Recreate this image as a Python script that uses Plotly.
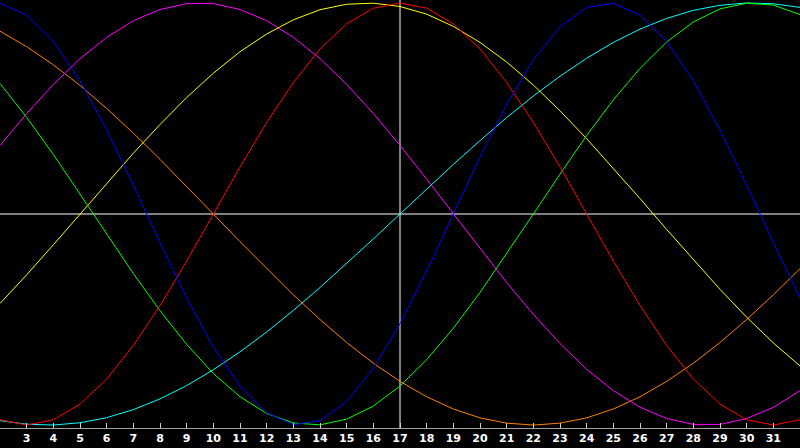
import plotly.graph_objects as go

# Days shown on the x axis
days = list(range(2, 33))
tick_days = list(range(3, 32))
tick_labels = [str(d) for d in tick_days]
today = 17

# Cycle values (one value per day, days 2..32)
blue = [0.998, 0.942, 0.817, 0.631, 0.398, 0.136, -0.136, -0.398, -0.631, -0.817,
        -0.942, -0.998, -0.979, -0.888, -0.731, -0.520, -0.270, 0.000, 0.270, 0.520,
        0.731, 0.888, 0.979, 0.998, 0.942, 0.817, 0.631, 0.398, 0.136, -0.136, -0.398]
red = [-0.975, -1.000, -0.975, -0.901, -0.782, -0.623, -0.434, -0.223, 0.000, 0.223,
       0.434, 0.623, 0.782, 0.901, 0.975, 1.000, 0.975, 0.901, 0.782, 0.623,
       0.434, 0.223, 0.000, -0.223, -0.434, -0.623, -0.782, -0.901, -0.975, -1.000, -0.975]
green = [0.618, 0.458, 0.282, 0.095, -0.095, -0.282, -0.458, -0.618, -0.756, -0.866,
         -0.945, -0.990, -0.999, -0.972, -0.910, -0.815, -0.690, -0.541, -0.372, -0.189,
         0.000, 0.189, 0.372, 0.541, 0.690, 0.815, 0.910, 0.972, 0.999, 0.990, 0.945]
magenta = [0.325, 0.476, 0.614, 0.736, 0.837, 0.916, 0.969, 0.997, 0.997, 0.969,
           0.916, 0.837, 0.736, 0.614, 0.476, 0.325, 0.165, 0.000, -0.165, -0.325,
           -0.476, -0.614, -0.736, -0.837, -0.916, -0.969, -0.997, -0.997, -0.969, -0.916, -0.837]
yellow = [-0.424, -0.288, -0.146, 0.000, 0.146, 0.288, 0.424, 0.552, 0.667, 0.769,
          0.853, 0.920, 0.968, 0.994, 0.999, 0.983, 0.947, 0.889, 0.813, 0.720,
          0.611, 0.489, 0.357, 0.217, 0.073, -0.073, -0.217, -0.357, -0.489, -0.611, -0.720]
orange = [0.866, 0.793, 0.707, 0.609, 0.500, 0.383, 0.259, 0.131, 0.000, -0.131,
          -0.259, -0.383, -0.500, -0.609, -0.707, -0.793, -0.866, -0.924, -0.966, -0.991,
          -1.000, -0.991, -0.966, -0.924, -0.866, -0.793, -0.707, -0.609, -0.500, -0.383, -0.259]
cyan = [-0.979, -0.996, -1.000, -0.989, -0.965, -0.927, -0.876, -0.813, -0.738, -0.653,
        -0.559, -0.457, -0.348, -0.235, -0.118, 0.000, 0.118, 0.235, 0.348, 0.457,
        0.559, 0.653, 0.738, 0.813, 0.876, 0.927, 0.965, 0.989, 1.000, 0.996, 0.979]

series = [
    ("orange", orange, "#ff8000"),
    ("cyan", cyan, "#00ffff"),
    ("magenta", magenta, "#ff00ff"),
    ("yellow", yellow, "#ffff00"),
    ("green", green, "#00ff00"),
    ("red", red, "#ff0000"),
    ("blue", blue, "#0000ff"),
]

fig = go.Figure()
for name, vals, col in series:
    fig.add_trace(go.Scatter(x=days, y=vals, mode="lines", name=name,
                             line=dict(color=col, width=1), hoverinfo="skip"))

fig.add_shape(type="line", xref="x", yref="paper", x0=today, x1=today, y0=0, y1=1,
              line=dict(color="white", width=1), layer="below")
fig.add_shape(type="line", xref="paper", yref="y", x0=0, x1=1, y0=0, y1=0,
              line=dict(color="white", width=1), layer="below")

fig.update_layout(
    width=800, height=448,
    margin=dict(l=0, r=0, t=0, b=20),
    paper_bgcolor="black", plot_bgcolor="black",
    showlegend=False,
    xaxis=dict(range=[2, 32], tickvals=tick_days, ticktext=tick_labels,
               ticks="inside", ticklen=5, tickcolor="#d0d0d0", tickwidth=1,
               showgrid=False, zeroline=False,
               showline=True, mirror=True, linecolor="#a0a0a0", linewidth=1,
               tickfont=dict(family="DejaVu Sans", size=11, color="white", weight="bold")),
    yaxis=dict(range=[-1.014, 1.014], showticklabels=False, ticks="",
               showgrid=False, zeroline=False,
               showline=True, mirror=True, linecolor="#a0a0a0", linewidth=1),
)

fig.write_html("out.html", config={"displayModeBar": False},
               post_script="document.body.style.margin='0';document.body.style.background='black';")
